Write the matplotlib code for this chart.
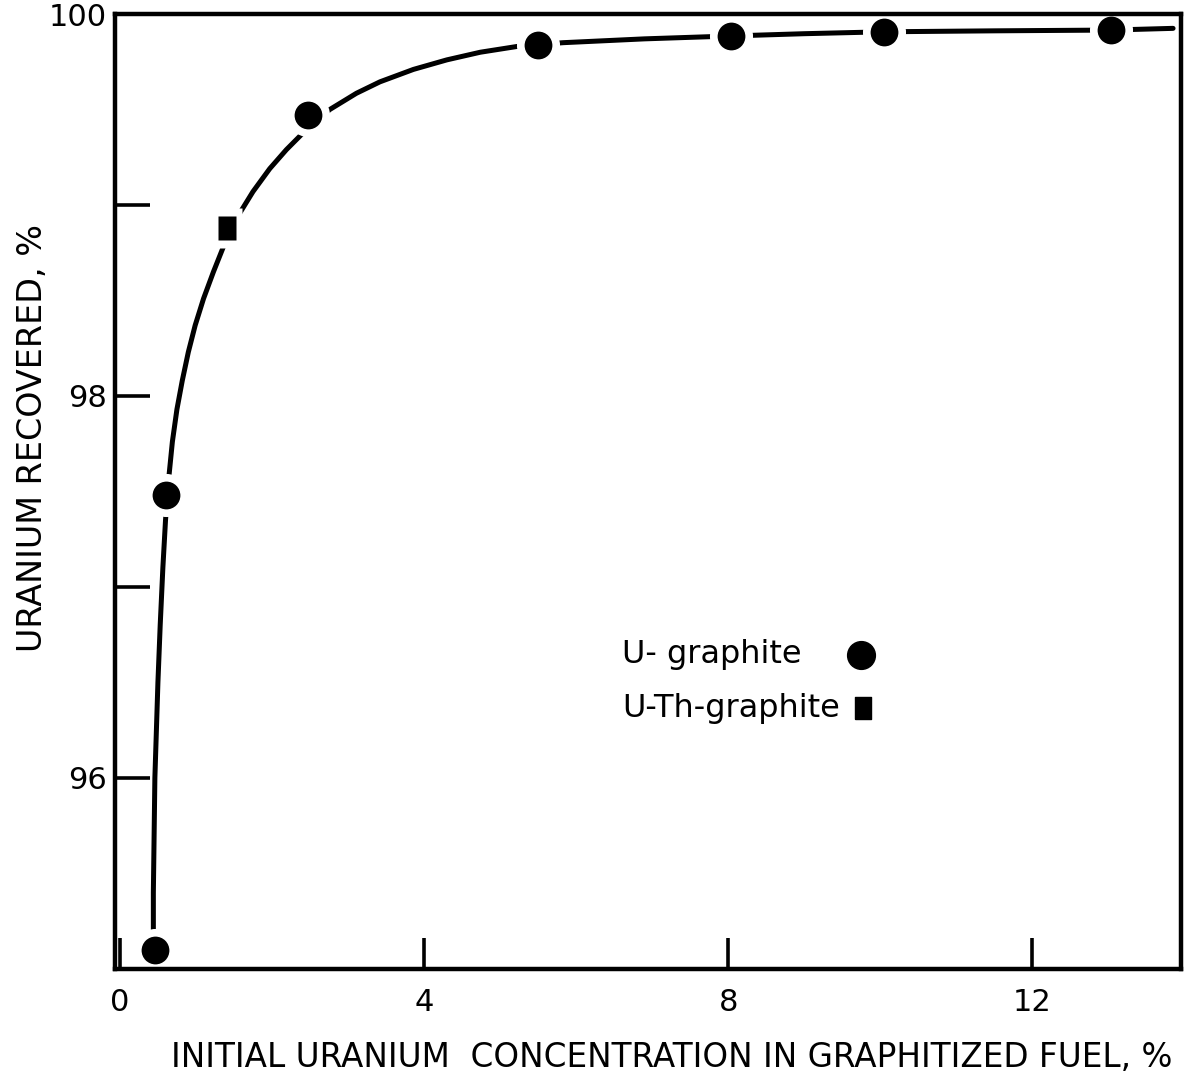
import numpy as np
import matplotlib
matplotlib.use("Agg")
import matplotlib.pyplot as plt

# measured points
u_graphite_x = [0.46, 0.605, 2.48, 5.50, 8.03, 10.05, 13.03]
u_graphite_y = [95.10, 97.48, 99.47, 99.84, 99.885, 99.907, 99.916]
u_th_graphite_x = [1.41]
u_th_graphite_y = [98.88]

# hand-drawn trend curve, traced along its length
curve_x = [0.44, 0.44, 0.45, 0.46, 0.48, 0.50, 0.53, 0.565, 0.60, 0.64,
           0.69, 0.75, 0.82, 0.90, 0.99, 1.10, 1.23, 1.39, 1.58, 1.75,
           1.97, 2.19, 2.39, 2.76, 3.11, 3.42, 3.86, 4.30, 4.74, 5.22,
           5.50, 5.83, 6.90, 8.03, 9.00, 10.05, 11.50, 13.03, 13.85]
curve_y = [95.10, 95.40, 95.70, 96.00, 96.25, 96.50, 96.80, 97.10, 97.35, 97.56,
           97.76, 97.93, 98.08, 98.23, 98.37, 98.51, 98.65, 98.81, 98.96, 99.07,
           99.19, 99.29, 99.37, 99.50, 99.585, 99.645, 99.71, 99.76, 99.80, 99.83,
           99.84, 99.85, 99.87, 99.885, 99.897, 99.907, 99.912, 99.916, 99.925]

x_ticks = [0, 4, 8, 12]
y_ticks = [96, 97, 98, 99, 100]
y_tick_labels = ["96", "", "98", "", "100"]

# upright rectangle used for the U-Th-graphite symbol
rect = [(-0.37, -0.5), (0.37, -0.5), (0.37, 0.5), (-0.37, 0.5), (-0.37, -0.5)]

fig = plt.figure(figsize=(11.89, 10.79), dpi=100)
ax = fig.add_axes([0.097, 0.102, 0.896, 0.885])

ax.plot(curve_x, curve_y, color="black", lw=3.6, solid_capstyle="round",
        solid_joinstyle="round", zorder=2)

# white halos break the curve around each symbol, then the symbols on top
ax.plot(u_graphite_x, u_graphite_y, ls="none", marker="o", ms=31,
        mfc="white", mec="none", zorder=2.1)
ax.plot(u_th_graphite_x, u_th_graphite_y, ls="none", marker=rect, ms=29,
        mfc="white", mec="none", zorder=2.1)
ax.plot(u_graphite_x, u_graphite_y, ls="none", marker="o", ms=20,
        mfc="black", mec="none", zorder=2.2)
ax.plot(u_th_graphite_x, u_th_graphite_y, ls="none", marker=rect, ms=17,
        mfc="black", mec="none", zorder=2.2)

ax.set_xlim(-0.06, 13.95)
ax.set_ylim(95, 100)
ax.set_xticks(x_ticks)
ax.set_yticks(y_ticks)
ax.set_yticklabels(y_tick_labels)

for s in ax.spines.values():
    s.set_linewidth(3.2)
ax.tick_params(axis="x", direction="in", length=22, width=2.6, pad=14,
               labelsize=22)
ax.tick_params(axis="y", direction="in", length=25, width=2.6, pad=6,
               labelsize=22)

fig.text(0.565, 0.0195, "INITIAL URANIUM  CONCENTRATION IN GRAPHITIZED FUEL, %",
         ha="center", va="center", fontsize=23.5)
fig.text(0.027, 0.594, "URANIUM RECOVERED, %", ha="center", va="center",
         rotation=90, fontsize=24)

# key
ax.text(0.476, 0.329, "U- graphite", transform=ax.transAxes, fontsize=23,
        ha="left", va="center")
ax.plot([0.6995], [0.329], transform=ax.transAxes, marker="o", ms=20,
        color="black", ls="none", clip_on=False)
ax.text(0.476, 0.273, "U-Th-graphite", transform=ax.transAxes, fontsize=23,
        ha="left", va="center")
ax.plot([0.702], [0.273], transform=ax.transAxes, marker=rect, ms=16.5,
        color="black", ls="none", clip_on=False)

fig.savefig("out.png", dpi=100)
